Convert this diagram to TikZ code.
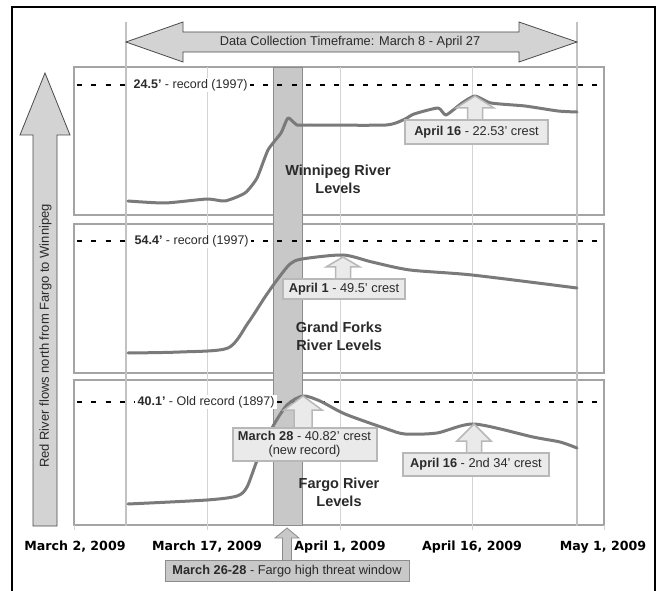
\documentclass[tikz,border=0pt]{standalone}
\usepackage{fontspec}
\setmainfont{Liberation Sans}
\newfontfamily\axisfont{DejaVu Sans}
\definecolor{panelc}{HTML}{A4A4A4}
\definecolor{gridc}{HTML}{D4D4D4}
\definecolor{boundc}{HTML}{C2C2C2}
\definecolor{curvec}{HTML}{7A7A7A}
\definecolor{callb}{HTML}{B8B8B8}
\definecolor{callf}{HTML}{EAEAEA}
\definecolor{titlec}{HTML}{2A2A2A}
\definecolor{arrowb}{HTML}{4A4A4A}
\definecolor{arrowf}{HTML}{D3D3D3}
\definecolor{bandf}{HTML}{C8C8C8}
\definecolor{bandb}{HTML}{8C8C8C}
\newcommand\calarr[7][calarrow]{%
  \draw[#1] (#2,#3) -- ({#2+#6},#4) -- ({#2+#7},#4) -- ({#2+#7},#5) -- ({#2-#7},#5) -- ({#2-#7},#4) -- ({#2-#6},#4) -- cycle;}
\begin{document}
\begin{tikzpicture}[x=1pt,y=-1pt,
  panel/.style={draw=panelc, line width=2pt, fill=white},
  gridline/.style={draw=gridc, line width=0.8pt},
  bound/.style={draw=boundc, line width=2.5pt},
  rec/.style={draw=black, line width=1.8pt, dash pattern=on 5pt off 9.3pt},
  reclab/.style={fill=white, inner xsep=2.5pt, inner ysep=1pt, text=titlec, font=\fontsize{12.5}{14}\selectfont, anchor=west},
  level/.style={draw=curvec, line width=3pt, line join=round, line cap=round},
  callout/.style={draw=callb, line width=2pt, fill=callf, inner sep=0pt, text=titlec, font=\fontsize{12.8}{15}\selectfont, align=center},
  calarrow/.style={draw=callb, line width=1.5pt, fill=callf},
  threatarrow/.style={draw=bandb, line width=0.8pt, fill=bandf},
  title/.style={font=\bfseries\fontsize{14.5}{18}\selectfont, align=center, text=titlec},
  axislab/.style={font=\axisfont\bfseries\fontsize{12.6}{14}\selectfont, text=black},
  blockarr/.style={draw=arrowb, line width=0.8pt, fill=arrowf},
]
\useasboundingbox (0,0) rectangle (657,591);
% outer frame
\draw[black, line width=2pt] (12,591) -- (12,7) -- (655,7) -- (655,591);

% panels
\draw[panel] (74,67) rectangle (604,215);
\draw[panel] (74,224) rectangle (604,373);
\draw[panel] (74,380) rectangle (604,525);

% grid lines
\foreach \gx in {207,340,472} \draw[gridline] (\gx,67) -- (\gx,530);
\draw[gridline] (74,525) -- (74,530);
\draw[gridline] (604,525) -- (604,530);

% threat band
\draw[draw=bandb, line width=0.6pt, fill=bandf] (273,67) rectangle (302,525);

% data collection boundaries
\draw[bound] (126,22) -- (126,526);
\draw[bound] (577,22) -- (577,526);

% top arrow
\draw[blockarr] (126,42) -- (183,22) -- (183,32) -- (519,32) -- (519,22) -- (577,42) -- (519,62) -- (519,52) -- (183,52) -- (183,62) -- cycle;
\node[font=\fontsize{12.8}{14}\selectfont, text=titlec] (dct) at (350,42) {Data Collection Timeframe: March 8 - April 27};

% left arrow
\draw[blockarr] (45,73) -- (70,135) -- (57,135) -- (57,526) -- (33,526) -- (33,135) -- (20,135) -- cycle;
\node[rotate=90, font=\fontsize{13}{15}\selectfont, text=titlec] (flow) at (45.5,336) {Red River flows north from Fargo to Winnipeg};

% record lines
\draw[rec] (77,85) -- (602,85);
\draw[rec] (77,241) -- (602,241);
\draw[rec] (77,402) -- (602,402);
\node[reclab] (rec1) at (131,85) {\textbf{24.5'} - record (1997)};
\node[reclab] (rec2) at (132,241) {\textbf{54.4'} - record (1997)};
\node[reclab] (rec3) at (135,402) {\textbf{40.1'} - Old record (1897)};

% level curves
\draw[level] plot[smooth, tension=0.35] coordinates {(128,201) (165,203) (207,199) (225,201) (245,193) (257,178) (268,150) (281,133) (288,118) (297,125) (310,125) (386,125) (405,119) (414,114) (438,108) (446,115) (462,103) (475,96) (491,103) (525,106) (558,111) (577,112)};
\draw[level] plot[smooth, tension=0.45] coordinates {(128,353) (180,352) (228,348) (248,323) (265,297) (277,280) (290,264) (302,259) (343,255) (372,262) (410,270) (472,275) (577,288)};
\draw[level] plot[smooth, tension=0.45] coordinates {(128,504) (207,500) (237,496) (247,487) (258,458) (272,428) (287,405) (303,396) (320,401) (345,414) (387,429) (405,434) (437,433) (474,424) (533,437) (560,442) (577,448)};

% callouts
\calarr{475}{96}{108}{122}{19}{7.5}
\node[callout, minimum width=143pt, minimum height=24pt] (c1) at (476.5,132) {\textbf{April 16} - 22.53' crest};
\calarr{343}{257}{267}{281}{17}{7.5}
\node[callout, minimum width=122pt, minimum height=20pt] (c2) at (344,289) {\textbf{April 1} - 49.5' crest};
\calarr{303}{396}{410}{429}{19}{9}
\node[callout, minimum width=144pt, minimum height=33pt, font=\fontsize{12.8}{14.5}\selectfont] (c3) at (304.5,444) {\textbf{March 28} - 40.82' crest\\(new record)};
\calarr{474}{424}{441}{454}{17}{7.5}
\node[callout, minimum width=146pt, minimum height=23pt] (c4) at (476,464) {\textbf{April 16} - 2nd 34' crest};
\calarr[threatarrow]{287}{528}{538}{562}{12}{4.5}
\node[callout, draw=bandb, line width=0.8pt, fill=bandf, minimum width=244pt, minimum height=21pt] (thr) at (287,571) {\textbf{March 26-28} - Fargo high threat window};

% titles
\node[title] (t1) at (338,179) {Winnipeg River\\Levels};
\node[title] (t2) at (339,336) {Grand Forks\\River Levels};
\node[title] (t3) at (339,492) {Fargo River\\Levels};

% axis labels
\node[axislab] (d1) at (75,547) {March 2, 2009};
\node[axislab] (d2) at (207,547) {March 17, 2009};
\node[axislab] (d3) at (340,547) {April 1, 2009};
\node[axislab] (d4) at (472,547) {April 16, 2009};
\node[axislab] (d5) at (603,547) {May 1, 2009};
\end{tikzpicture}
\end{document}
